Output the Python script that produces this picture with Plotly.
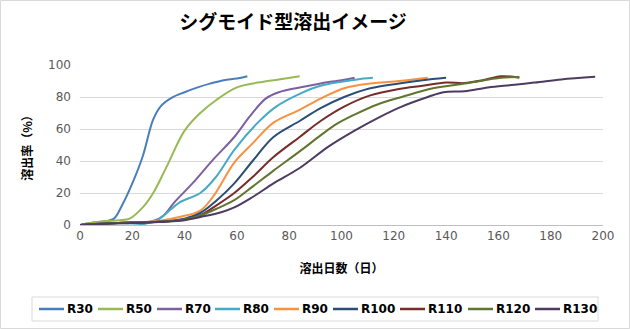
import plotly.graph_objects as go

names = ["R30", "R50", "R70", "R80", "R90", "R100", "R110", "R120", "R130"]
colors = ["#4A7EBB", "#98B954", "#7D60A0", "#46AAC5", "#F69240",
          "#2C4D75", "#772C2A", "#5F7530", "#4D3B62"]

x_r30 = [0, 5, 10, 13, 16, 20, 24, 28, 31, 35, 40, 45, 50, 55, 60, 64]
y_r30 = [0, 1.5, 2.5, 4, 12, 26, 43, 66, 74.5, 79.5, 83, 86, 88.5, 90.5, 91.5, 93]

x_r50 = [0, 5, 10, 15, 19, 24, 28, 33, 40, 46, 52, 60, 68, 76, 84]
y_r50 = [0, 1.5, 2.5, 3, 4, 11, 20, 36, 59, 70, 78, 86, 89, 91, 93]

x_r70 = [0, 10, 20, 28, 32, 36, 43, 51, 59, 65, 71, 76, 84, 92, 100, 105]
y_r70 = [0, 1, 1.5, 2.5, 6, 14, 26, 41, 55, 68, 79, 83, 86, 88.5, 90.5, 92]

x_r80 = [0, 10, 20, 25, 30, 38, 46, 52, 59, 68, 75, 84, 92, 100, 106, 112]
y_r80 = [0, 1, 1, 0.8, 3.5, 14, 20, 30, 47, 64, 74, 82, 87, 89.5, 91, 92]

x_r90 = [0, 10, 20, 30, 38, 46, 51, 59, 66, 74, 84, 92, 101, 111, 122, 133]
y_r90 = [0, 1, 1.5, 2.5, 5, 9, 18, 39, 51, 64, 72, 79, 85.5, 88.5, 90, 92]

x_r100 = [0, 10, 20, 30, 40, 46, 52, 59, 66, 74, 84, 92, 101, 111, 122, 131, 140]
y_r100 = [0, 1, 1.5, 2, 4, 7.5, 15, 26, 40, 55, 65, 73, 80, 85.5, 88.5, 90.5, 92]

x_r110 = [0, 10, 20, 30, 40, 46, 51, 59, 66, 74, 84, 92, 101, 111, 122, 131, 140, 147, 154, 161, 168]
y_r110 = [0, 1, 1.5, 2, 3.5, 6, 11, 20, 30, 42.5, 55, 65, 74, 81, 85, 87, 89, 88.7, 90.5, 93, 92]

x_r120 = [0, 10, 20, 30, 40, 46, 52, 59, 66, 74, 84, 92, 98, 105, 114, 123, 135, 148, 161, 168]
y_r120 = [0, 1, 1.5, 2, 3.5, 6, 10, 15.5, 24, 34, 46, 56, 63, 69, 75.5, 80, 85.5, 88.6, 92, 92.5]

x_r130 = [0, 10, 20, 30, 40, 46, 54, 59, 66, 74, 84, 95, 105, 114, 123, 133, 139, 147, 156, 165, 174, 184, 197]
y_r130 = [0, 0.8, 1.2, 1.8, 3, 5, 8, 11, 17.5, 26, 35.6, 49, 59, 67, 74, 80, 83, 83.6, 86, 87.5, 89, 91, 92.6]

xs = [x_r30, x_r50, x_r70, x_r80, x_r90, x_r100, x_r110, x_r120, x_r130]
ys = [y_r30, y_r50, y_r70, y_r80, y_r90, y_r100, y_r110, y_r120, y_r130]

x_ticks = [0, 20, 40, 60, 80, 100, 120, 140, 160, 180, 200]
y_ticks = [0, 20, 40, 60, 80, 100]

title_text = "シグモイド型溶出イメージ"
x_title = "溶出日数（日）"
y_title = "溶出率（%）"

JP = "Noto Sans CJK JP, DejaVu Sans, sans-serif"
NUM = "DejaVu Sans, Noto Sans CJK JP, sans-serif"

W, H = 630, 329
L, R, T, B = 80, 27, 65, 104
pw = W - L - R
ph = H - T - B


def px_x(p):
    return (p - L) / pw


def px_y(p):
    return (H - B - p) / ph


fig = go.Figure()
for n, c, x, y in zip(names, colors, xs, ys):
    fig.add_trace(go.Scatter(x=x, y=y, name=n, mode="lines", showlegend=False,
                             line=dict(color=c, width=2, shape="spline", smoothing=1.0)))

fig.update_layout(
    width=W, height=H,
    margin=dict(l=L, r=R, t=T, b=B, autoexpand=False),
    paper_bgcolor="white", plot_bgcolor="white",
    title=dict(text=f"<b>{title_text}</b>", x=293 / W, xanchor="center",
               y=1 - 22 / H, yanchor="middle",
               font=dict(family=JP, size=19, color="black")),
    xaxis=dict(range=[0, 200], tickvals=x_ticks, showgrid=False,
               showline=True, linecolor="#BFBFBF", linewidth=1,
               ticks="", tickfont=dict(family=NUM, size=12, color="#595959"),
               title=dict(text=f"<b>{x_title}</b>", standoff=22,
                          font=dict(family=JP, size=12, color="#000000")),
               zeroline=False, fixedrange=True, automargin=False),
    yaxis=dict(range=[0, 100], tickvals=y_ticks, showgrid=True,
               gridcolor="#D9D9D9", gridwidth=1, showline=False,
               ticks="", ticklabelstandoff=8,
               tickfont=dict(family=NUM, size=12, color="#595959"),
               title=dict(text=f"<b>{y_title}</b>", standoff=12,
                          font=dict(family=JP, size=12, color="#000000")),
               zeroline=False, fixedrange=True, automargin=False),
    showlegend=False,
)

# chart area border
fig.add_shape(type="rect", xref="paper", yref="paper",
              x0=px_x(0.5), x1=px_x(W - 0.5), y0=px_y(H - 0.5), y1=px_y(0.5),
              line=dict(color="#D9D9D9", width=1), layer="below")

# legend (drawn by hand to match the compact Excel legend)
legend_box = (32, 297, 598, 321)
legend_starts = [39, 98, 157, 215, 274, 333, 400, 468, 535]
sample_len = 25
legend_y = 309
fig.add_shape(type="rect", xref="paper", yref="paper",
              x0=px_x(legend_box[0]), x1=px_x(legend_box[2]),
              y0=px_y(legend_box[3]), y1=px_y(legend_box[1]),
              line=dict(color="#D9D9D9", width=1), fillcolor="white")
for n, c, sx in zip(names, colors, legend_starts):
    fig.add_shape(type="line", xref="paper", yref="paper",
                  x0=px_x(sx), x1=px_x(sx + sample_len),
                  y0=px_y(legend_y), y1=px_y(legend_y),
                  line=dict(color=c, width=2.5))
    fig.add_annotation(xref="paper", yref="paper", x=px_x(sx + sample_len + 1),
                       y=px_y(legend_y), xanchor="left", yanchor="middle",
                       text=f"<b>{n}</b>", showarrow=False,
                       font=dict(family=NUM, size=12, color="#000000"))

fig.write_html("out.html")
